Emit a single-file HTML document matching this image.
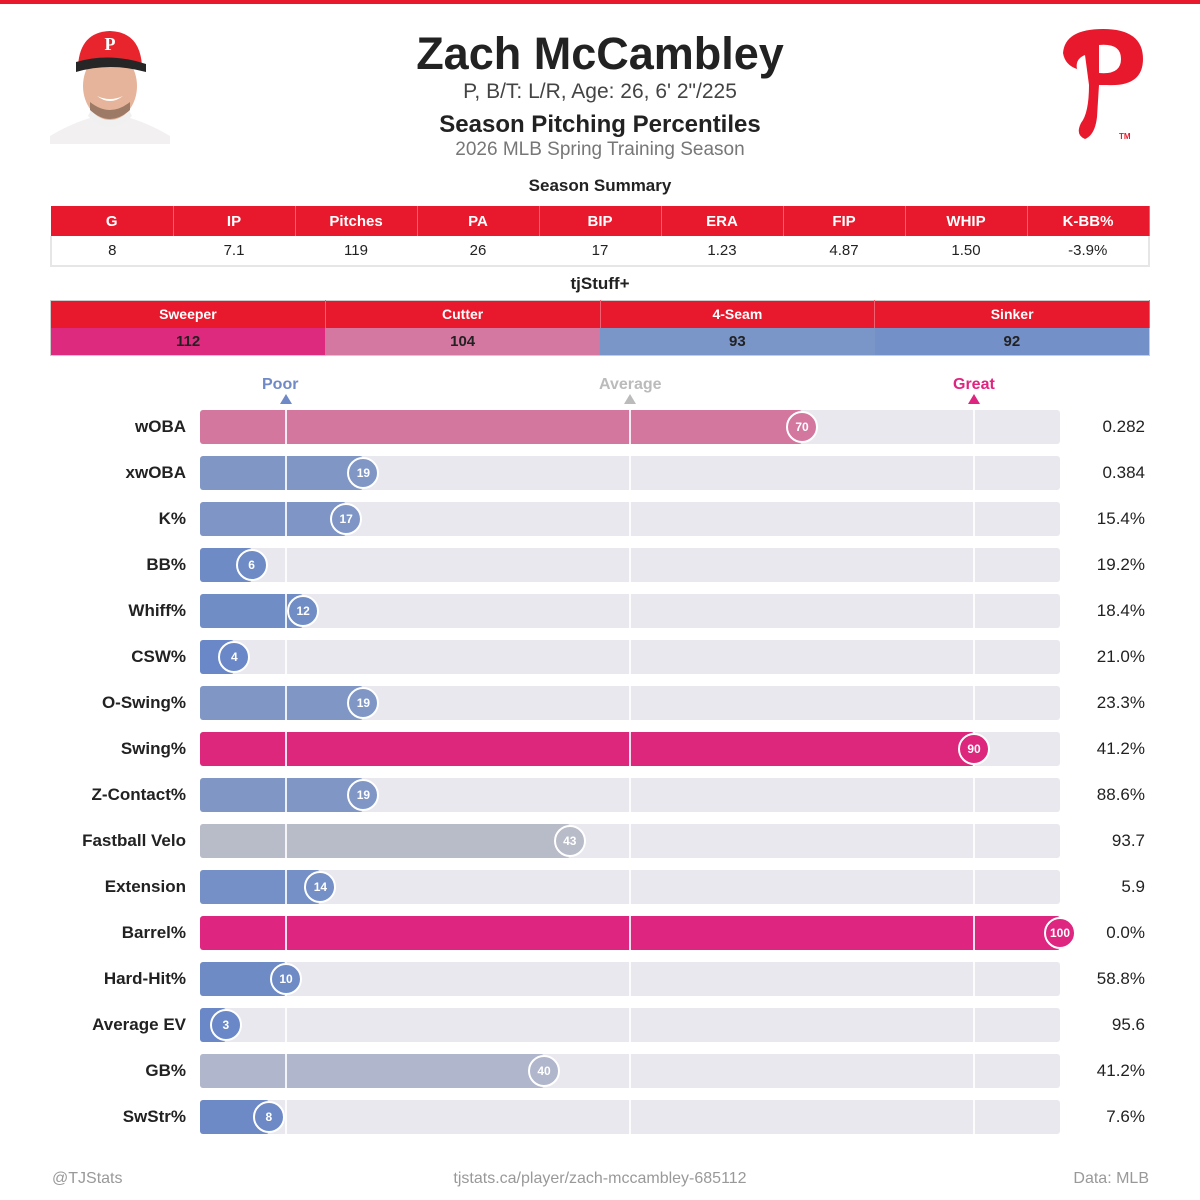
<!DOCTYPE html>
<html><head><meta charset="utf-8"><style>
*{margin:0;padding:0;box-sizing:border-box}
body{width:1200px;height:1200px;background:#fff;font-family:"Liberation Sans",Arial,sans-serif;position:relative;overflow:hidden;color:#222}
.a{position:absolute}
.c{text-align:center}
table{border-collapse:collapse;position:absolute;left:50px;width:1100px;table-layout:fixed}
.t1 th{background:#e8192c;color:#fff;font-size:15px;font-weight:bold;height:30px;border-right:1px solid #f06070}
.t1 td{height:30px;font-size:15px;text-align:center;border-bottom:2px solid #e6e6e6;border-right:1px solid #fff}
.t2 th{background:#e8192c;color:#fff;font-size:14px;height:27px;border-right:1px solid #f06070}
.t2 td{height:28px;font-size:15px;font-weight:bold;text-align:center;color:#222}
.lbl{position:absolute;right:1014px;font-size:17px;font-weight:bold;color:#222;text-align:right;white-space:nowrap}
.val{position:absolute;right:55px;font-size:17px;color:#222;text-align:right}
.bg{position:absolute;left:200px;width:860px;height:34px;background:#e8e8ee;border-radius:3px}
.bar{position:absolute;left:200px;height:34px;border-radius:3px}
.vl{position:absolute;width:2px;height:34px;background:#fff;opacity:.85}
.dot{position:absolute;width:32px;height:32px;border-radius:50%;border:2px solid #fff;color:#fff;font-size:12px;font-weight:bold;text-align:center;line-height:28px}
</style></head><body>
<div class="a" style="left:0;top:0;width:1200px;height:4px;background:#e8192c"></div>
<!-- photo -->
<svg class="a" style="left:50px;top:28px" width="120" height="116" viewBox="0 0 120 116">
<path d="M0 116 L0 108 Q20 96 40 90 L80 90 Q100 96 120 108 L120 116Z" fill="#f2f0f0"/>
<path d="M38 88 Q60 110 82 88 L78 80 L42 80Z" fill="#f0f0f0"/>
<ellipse cx="60" cy="58" rx="27" ry="34" fill="#e6b49a"/>
<path d="M40 82 Q60 100 80 82 L80 74 Q60 90 40 74Z" fill="#9c7a66"/>
<path d="M47 68 Q60 78 73 68 Q60 74 47 68Z" fill="#fff"/>
<path d="M28 38 Q30 4 60 3 Q90 4 92 38Z" fill="#e8252c"/>
<path d="M26 34 Q60 24 96 36 L96 44 Q60 34 26 44Z" fill="#262626"/>
<text x="60" y="22" font-size="18" font-weight="bold" fill="#fff" text-anchor="middle" font-family="Liberation Serif">P</text>
</svg>
<!-- logo -->
<svg class="a" style="left:1055px;top:25px" width="100" height="120" viewBox="0 0 100 120">
<path d="M30 30 Q20 34 22 44 Q10 40 8 28 Q10 4 48 4 Q88 4 88 34 Q88 62 52 60 L44 60 L42 92 Q40 110 30 114 Q20 110 26 98 Q34 88 34 60 Z M44 20 L44 48 Q66 50 66 34 Q66 18 44 20Z" fill="#e8192c"/>
<text x="64" y="114" font-size="8" font-weight="bold" fill="#e8192c">TM</text>
</svg>
<div class="a c" style="left:0;width:1200px;top:28px;font-size:45px;font-weight:bold;color:#222">Zach McCambley</div>
<div class="a c" style="left:0;width:1200px;top:80px;font-size:21px;color:#444">P, B/T: L/R, Age: 26, 6' 2"/225</div>
<div class="a c" style="left:0;width:1200px;top:111px;font-size:24px;font-weight:bold;color:#222">Season Pitching Percentiles</div>
<div class="a c" style="left:0;width:1200px;top:139px;font-size:19px;color:#777">2026 MLB Spring Training Season</div>
<div class="a c" style="left:0;width:1200px;top:176px;font-size:17px;font-weight:bold">Season Summary</div>
<table class="t1" style="top:206px"><tr><th>G</th><th>IP</th><th>Pitches</th><th>PA</th><th>BIP</th><th>ERA</th><th>FIP</th><th>WHIP</th><th>K-BB%</th></tr>
<tr style="border-left:2px solid #e6e6e6;border-right:2px solid #e6e6e6"><td>8</td><td>7.1</td><td>119</td><td>26</td><td>17</td><td>1.23</td><td>4.87</td><td>1.50</td><td>-3.9%</td></tr></table>
<div class="a c" style="left:0;width:1200px;top:274px;font-size:17px;font-weight:bold">tjStuff+</div>
<table class="t2" style="top:300px;border:1px solid #ccc"><tr><th>Sweeper</th><th>Cutter</th><th>4-Seam</th><th>Sinker</th></tr>
<tr><td style="background:#de2a7e">112</td><td style="background:#d478a2">104</td><td style="background:#7a95c8">93</td><td style="background:#7490c8">92</td></tr></table>
<div class="a" style="left:262px;top:376px;font-size:16px;font-weight:bold;color:#6f8ac6">Poor</div>
<div class="a" style="left:280px;top:394px;border-left:6px solid transparent;border-right:6px solid transparent;border-bottom:10px solid #6f8ac6"></div>
<div class="a" style="left:599px;top:376px;font-size:16px;font-weight:bold;color:#bbb">Average</div>
<div class="a" style="left:624px;top:394px;border-left:6px solid transparent;border-right:6px solid transparent;border-bottom:10px solid #bbb"></div>
<div class="a" style="left:953px;top:376px;font-size:16px;font-weight:bold;color:#de2580">Great</div>
<div class="a" style="left:968px;top:394px;border-left:6px solid transparent;border-right:6px solid transparent;border-bottom:10px solid #de2580"></div>
<div id="rows"></div>
<div class="a" style="left:52px;top:1170px;font-size:16px;color:#999">@TJStats</div>
<div class="a c" style="left:0;width:1200px;top:1170px;font-size:16px;color:#999">tjstats.ca/player/zach-mccambley-685112</div>
<div class="a" style="right:51px;top:1170px;font-size:16px;color:#999">Data: MLB</div>
<script>
var d=[["wOBA",70,"#d3779f","0.282"],["xwOBA",19,"#8097c6","0.384"],["K%",17,"#7e95c5","15.4%"],["BB%",6,"#6e8bc6","19.2%"],["Whiff%",12,"#718dc6","18.4%"],["CSW%",4,"#6a88c7","21.0%"],["O-Swing%",19,"#8097c6","23.3%"],["Swing%",90,"#dc277c","41.2%"],["Z-Contact%",19,"#8097c6","88.6%"],["Fastball Velo",43,"#b8bbc8","93.7"],["Extension",14,"#7590c6","5.9"],["Barrel%",100,"#de2580","0.0%"],["Hard-Hit%",10,"#6e8bc6","58.8%"],["Average EV",3,"#6a88c7","95.6"],["GB%",40,"#b0b6cb","41.2%"],["SwStr%",8,"#6d8ac6","7.6%"]];
var h="";
d.forEach(function(r,i){var y=410+46*i,w=8.6*r[1],cx=200+w;
h+='<div class="lbl" style="top:'+(y+7)+'px">'+r[0]+'</div>';
h+='<div class="bg" style="top:'+y+'px"></div>';
h+='<div class="bar" style="top:'+y+'px;width:'+w+'px;background:'+r[2]+'"></div>';
[285,629,973].forEach(function(x){h+='<div class="vl" style="left:'+x+'px;top:'+y+'px"></div>'});
h+='<div class="dot" style="left:'+(cx-16)+'px;top:'+(y+1)+'px;background:'+r[2]+'">'+r[1]+'</div>';
h+='<div class="val" style="top:'+(y+7)+'px">'+r[3]+'</div>';});
document.getElementById("rows").innerHTML=h;
</script>
</body></html>
